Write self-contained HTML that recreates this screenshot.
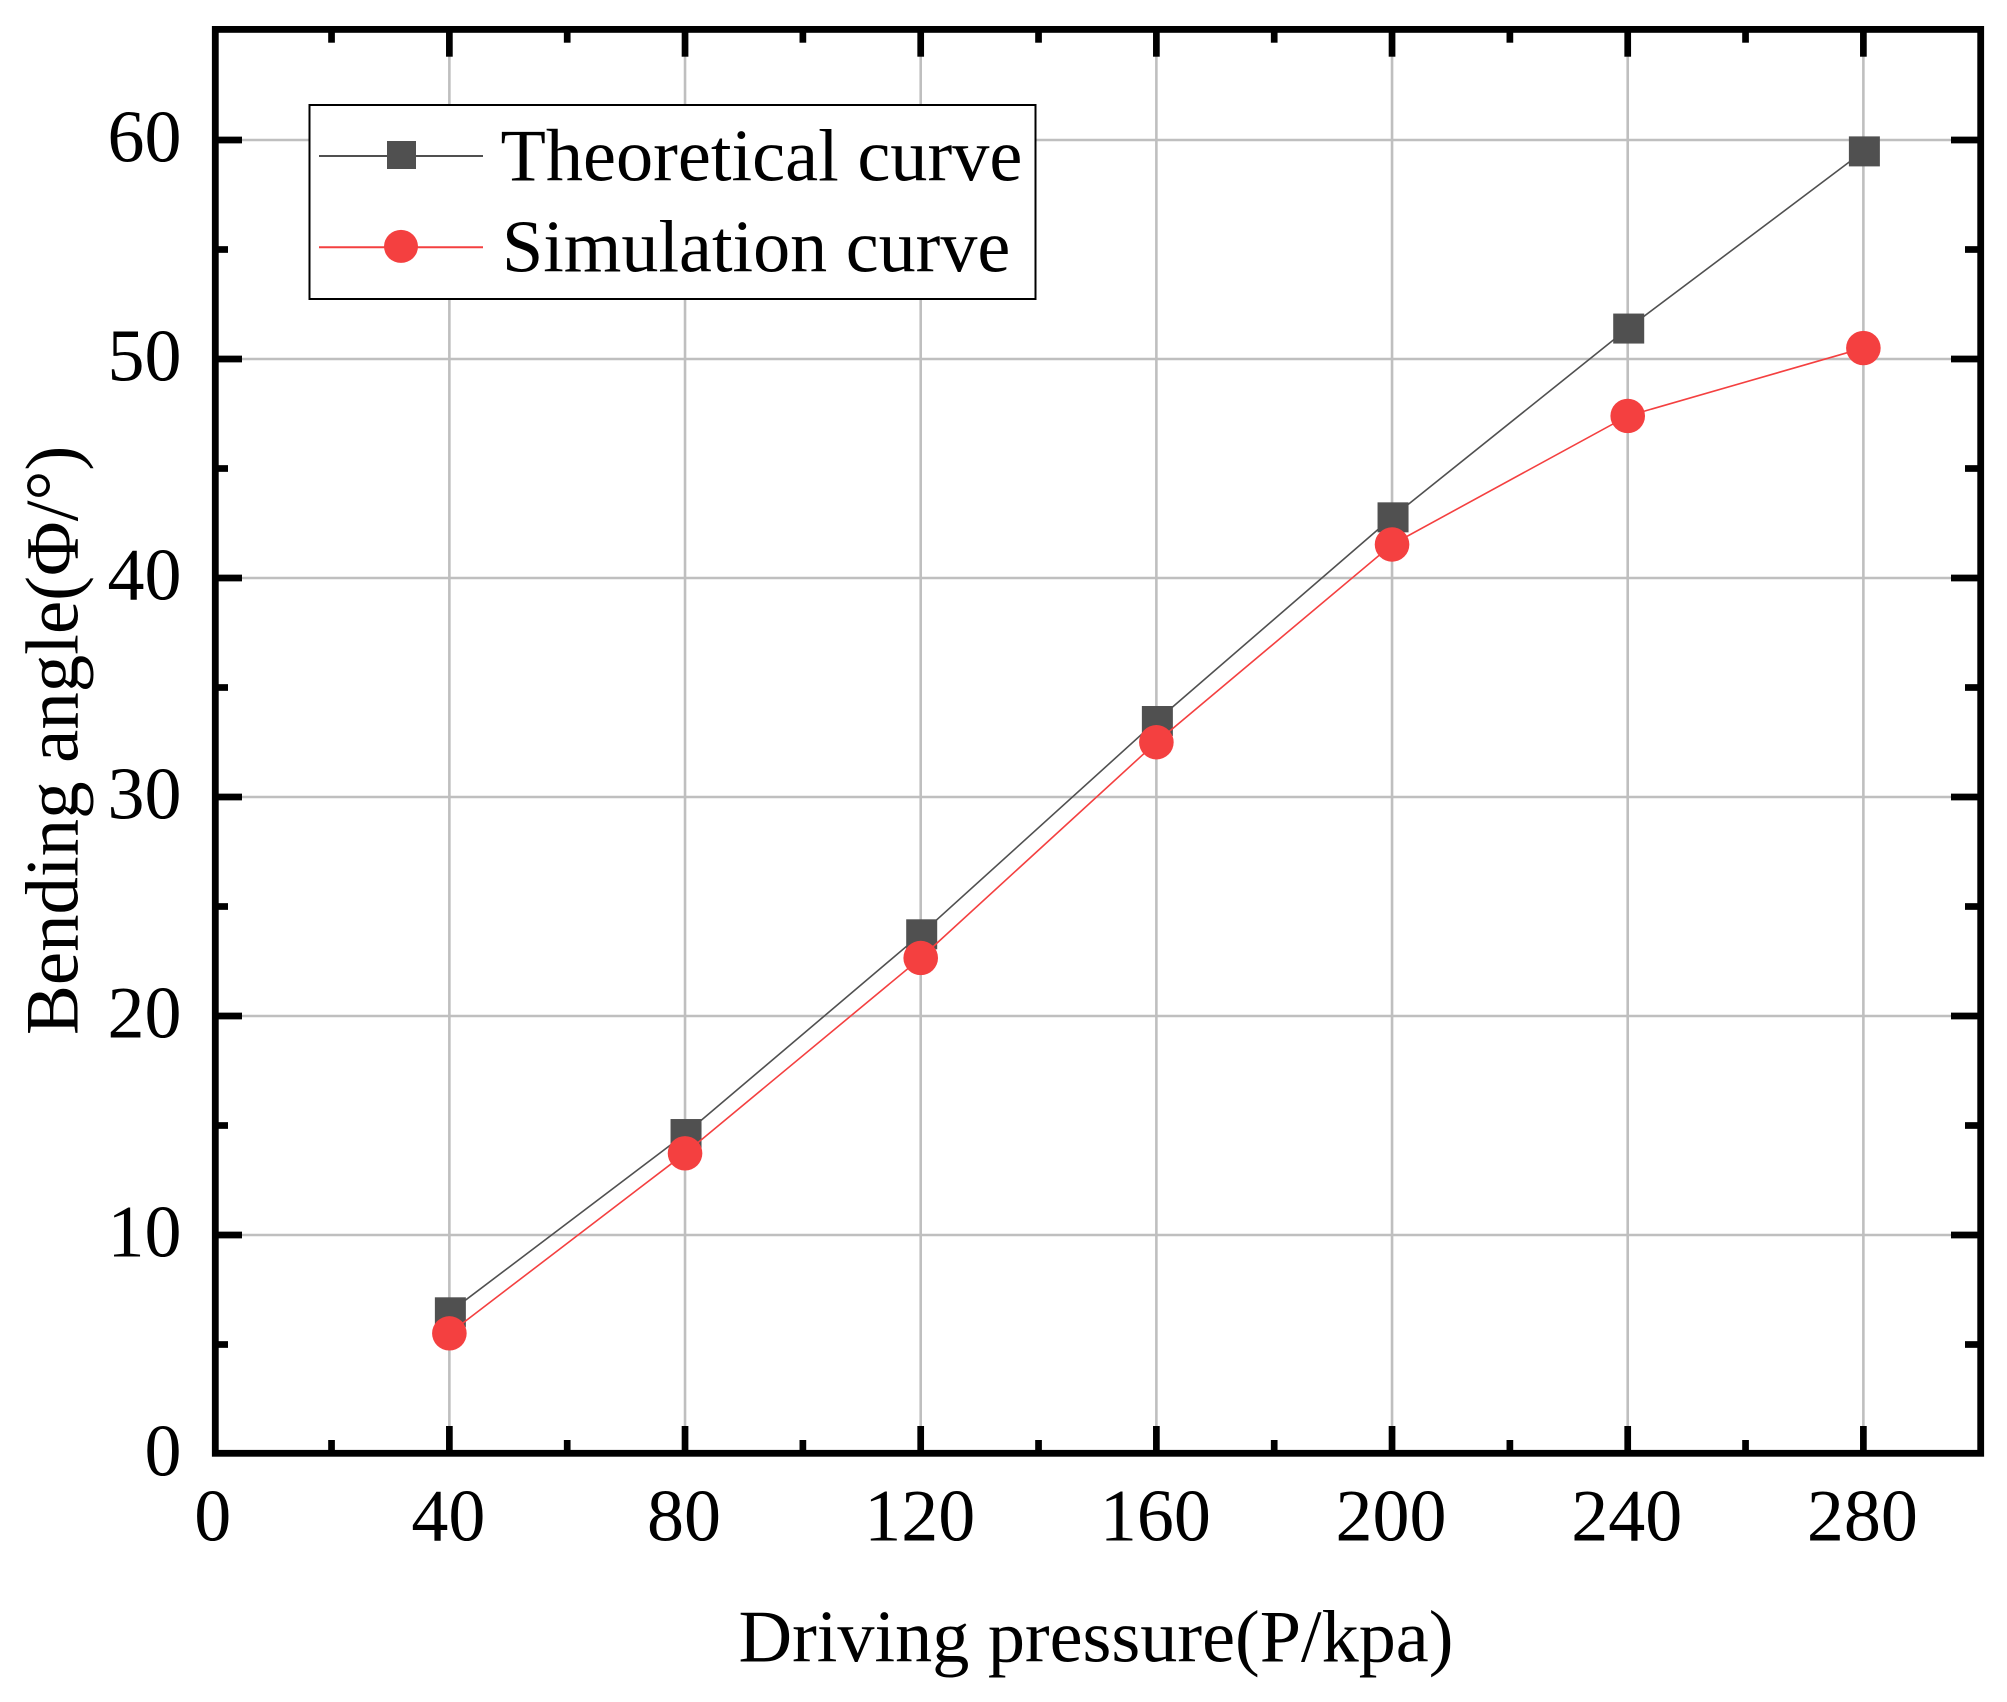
<!DOCTYPE html>
<html lang="en">
<head>
<meta charset="utf-8">
<title>Bending angle vs driving pressure</title>
<style>
  html, body { margin: 0; padding: 0; background: #ffffff; }
  svg { display: block; }
  text { font-family: "Liberation Serif", "DejaVu Serif", serif; fill: #000000; }
</style>
</head>
<body>
<svg id="chart" xmlns="http://www.w3.org/2000/svg" width="2007" height="1702" viewBox="0 0 2007 1702">
  <rect x="0" y="0" width="2007" height="1702" fill="#ffffff"></rect>
  <g id="grid"></g>
  <g id="series"></g>
  <g id="ticks"></g>
  <rect x="215.3" y="29.4" width="1765.4" height="1423.9" fill="none" stroke="#000000" stroke-width="6.8"></rect>
  <g id="tick-labels" font-size="74"></g>
  <text x="738.5" y="1661.5" font-size="74.2">Driving pressure(P/kpa)</text>
  <text transform="translate(77.3 1035) rotate(-90)" font-size="74.8">Bending angle(Φ/°)</text>
  <g>
    <rect x="309.5" y="105" width="726" height="194" fill="#ffffff" stroke="#000000" stroke-width="2"></rect>
    <line x1="319" y1="156" x2="483" y2="156" stroke="#505050" stroke-width="2"></line>
    <rect x="387" y="141" width="29" height="28" fill="#505050"></rect>
    <text x="500.5" y="180.5" font-size="74.3">Theoretical curve</text>
    <line x1="319" y1="247.3" x2="483" y2="247.3" stroke="#f44040" stroke-width="2"></line>
    <ellipse cx="401" cy="246.4" rx="17" ry="16.5" fill="#f44040"></ellipse>
    <text x="502" y="271.5" font-size="74.1">Simulation curve</text>
  </g>
</svg>
<script>
const pressures = [40, 80, 120, 160, 200, 240, 280];
const theoretical = [6.47, 14.61, 23.73, 33.47, 42.77, 51.39, 59.48];
const simulation = [5.51, 13.73, 22.65, 32.5, 41.53, 47.4, 50.5];
const xTickValues = [0, 40, 80, 120, 160, 200, 240, 280];
const xMinorValues = [20, 60, 100, 140, 180, 220, 260];
const yTickValues = [0, 10, 20, 30, 40, 50, 60];
const yMinorValues = [5, 15, 25, 35, 45, 55];

const NS = 'http://www.w3.org/2000/svg';
const xScale = function (v) { return 213.7 + 5.8917 * v; };
const yScale = function (v) { return 1454 - 21.9 * v; };
const plotLeft = 215.3, plotRight = 1980.7, plotTop = 29.4, plotBottom = 1453.3;

function make(tag, parent, props) {
  const el = document.createElementNS(NS, tag);
  for (const key in props) { el.setAttribute(key, props[key]); }
  parent.appendChild(el);
  return el;
}

const grid = document.getElementById('grid');
const ticks = document.getElementById('ticks');
const labels = document.getElementById('tick-labels');
const series = document.getElementById('series');

function tickLine(x1, y1, x2, y2) {
  return make('line', ticks, { x1: x1, y1: y1, x2: x2, y2: y2, stroke: '#000000', 'stroke-width': 6.7 });
}

xTickValues.forEach(function (v) {
  const x = xScale(v);
  if (v > 0) {
    const g = make('line', grid, { x1: x, y1: plotTop, x2: x, y2: plotBottom, stroke: '#bfbfbf', 'stroke-width': 2.6 });
    
    
    const b = tickLine(x, plotBottom, x, 1426);
    
    
    const t = tickLine(x, plotTop, x, 56.7);
    
    
  }
  const label = make('text', labels, { x: x - 1, y: 1540.5, 'text-anchor': 'middle' });
  label.textContent = String(v);
  
  
});

xMinorValues.forEach(function (v) {
  const x = xScale(v);
  const b = tickLine(x, plotBottom, x, 1440);
  
  
  const t = tickLine(x, plotTop, x, 42.7);
  
  
});

yTickValues.forEach(function (v) {
  const y = yScale(v);
  if (v > 0) {
    const g = make('line', grid, { x1: plotLeft, y1: y, x2: plotRight, y2: y, stroke: '#bfbfbf', 'stroke-width': 2.6 });
    
    
    const l = tickLine(plotLeft, y, 242, y);
    
    
    const r = tickLine(plotRight, y, 1951, y);
    
    
  }
  const label = make('text', labels, { x: 181.5, y: y + 21.5, 'text-anchor': 'end' });
  label.textContent = String(v);
  
  
});

yMinorValues.forEach(function (v) {
  const y = yScale(v);
  const l = tickLine(plotLeft, y, 228, y);
  
  
  const r = tickLine(plotRight, y, 1965, y);
  
  
});

function linePoints(values) {
  return values.map(function (v, i) { return xScale(pressures[i]) + ',' + yScale(v); }).join(' ');
}

const theoreticalLine = make('polyline', series, { points: linePoints(theoretical), fill: 'none', stroke: '#505050', 'stroke-width': 1.6 });



theoretical.forEach(function (v, i) {
  const m = make('rect', series, { x: xScale(pressures[i]) + 1 - 15.5, y: yScale(v) - 15, width: 31, height: 30, fill: '#505050' });
  
  
});

const simulationLine = make('polyline', series, { points: linePoints(simulation), fill: 'none', stroke: '#f44040', 'stroke-width': 1.6 });



simulation.forEach(function (v, i) {
  const m = make('ellipse', series, { cx: xScale(pressures[i]), cy: yScale(v), rx: 17.3, ry: 17.2, fill: '#f44040' });
  
  
});
</script>
</body>
</html>
